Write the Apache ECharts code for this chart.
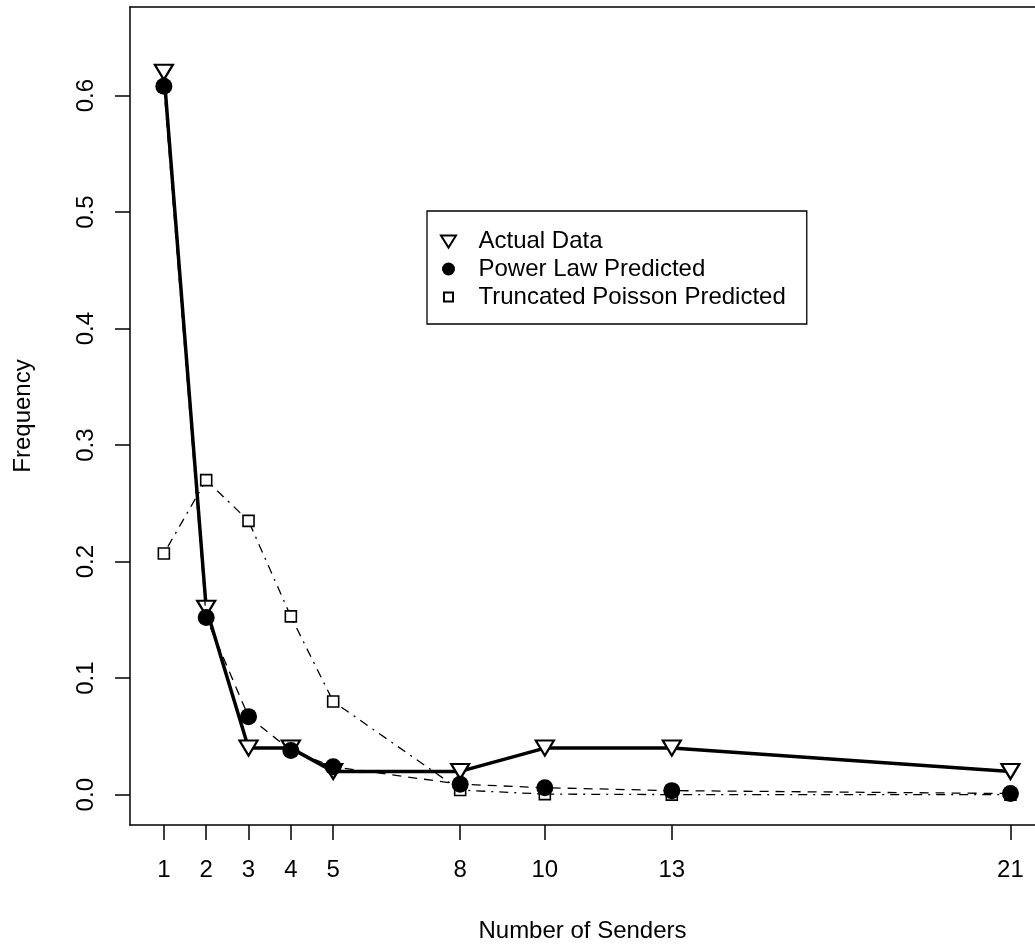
<!DOCTYPE html>
<head>
    <meta charset="utf-8">
    <title>ECharts</title>
</head>
<body style="margin:0;background:#fff">
    <div id="main" style="height:951px;width:1035px"></div>
    <script src="https://cdn.jsdelivr.net/npm/echarts@6/dist/echarts.min.js"></script>
    <script type="text/javascript">
    // data
    var senders = [1, 2, 3, 4, 5, 8, 10, 13, 21];
    var actualData = [0.62, 0.16, 0.04, 0.04, 0.02, 0.02, 0.04, 0.04, 0.02];
    var powerLaw = [0.608, 0.152, 0.067, 0.038, 0.024, 0.009, 0.006, 0.0035, 0.001];
    var poisson = [0.207, 0.270, 0.235, 0.153, 0.080, 0.004, 0.0005, 0.0001, 0.0];
    var yTicks = [0, 0.1, 0.2, 0.3, 0.4, 0.5, 0.6];

    function pairs(ys) {
        var out = [];
        for (var i = 0; i < senders.length; i++) {
            out.push([senders[i], ys[i]]);
        }
        return out;
    }

    var FONT = 'Liberation Sans';
    var triPath = 'path://M0,0L20,0L10,17Z';
    var myChart = echarts.init(document.getElementById('main'));
    var option = {
        backgroundColor: '#fff',
        animation: false,
        textStyle: {fontFamily: FONT, color: '#000'},
        legend: {
            orient: 'vertical',
            left: 427,
            top: 211,
            padding: [18, 21, 15, 13],
            borderColor: '#000',
            borderWidth: 1.3,
            itemWidth: 42,
            itemHeight: 13,
            itemGap: 4,
            textStyle: {fontFamily: FONT, fontSize: 24, color: '#000', padding: [0, 0, 0, 4]},
            data: [
                {name: 'Actual Data', icon: 'path://M0,0M15,13M0,1L15,1L7.5,13Z'},
                {name: 'Power Law Predicted', icon: 'circle'},
                {name: 'Truncated Poisson Predicted', icon: 'path://M0,0M13,13M2,2L11,2L11,11L2,11Z'}
            ]
        },
        grid: {left: 130, right: 0, top: 7, bottom: 126},
        xAxis: [{
            type: 'value',
            min: 0.2,
            max: 21.58,
            name: 'Number of Senders',
            nameLocation: 'middle',
            nameGap: 94,
            nameTextStyle: {fontFamily: FONT, fontSize: 24, color: '#000'},
            splitLine: {show: false},
            axisLine: {onZero: false, lineStyle: {color: '#000', width: 1.5}},
            axisTick: {length: 15, lineStyle: {color: '#000', width: 1.5}, customValues: senders},
            axisLabel: {fontFamily: FONT, fontSize: 24, color: '#000', margin: 33, customValues: senders}
        }, {
            type: 'value',
            position: 'top',
            min: 0.2,
            max: 21.58,
            splitLine: {show: false},
            axisLine: {onZero: false, lineStyle: {color: '#000', width: 1.5}},
            axisTick: {show: false},
            axisLabel: {show: false}
        }],
        yAxis: {
            type: 'value',
            min: -0.026,
            max: 0.676,
            name: 'Frequency',
            nameLocation: 'middle',
            nameGap: 95,
            nameTextStyle: {fontFamily: FONT, fontSize: 24, color: '#000'},
            splitLine: {show: false},
            axisLine: {show: true, onZero: false, lineStyle: {color: '#000', width: 1.5}},
            axisTick: {show: true, length: 15, lineStyle: {color: '#000', width: 1.5}, customValues: yTicks},
            axisLabel: {
                fontFamily: FONT, fontSize: 24, color: '#000', margin: 32, rotate: 90,
                customValues: yTicks,
                formatter: function (v) { return v.toFixed(1); }
            }
        },
        series: [{
            name: 'Actual Data',
            type: 'line',
            data: pairs(actualData),
            symbol: triPath,
            symbolSize: [18, 15],
            z: 2,
            lineStyle: {color: '#000', width: 3.5},
            itemStyle: {color: '#fff', borderColor: '#000', borderWidth: 2.2}
        }, {
            name: 'Truncated Poisson Predicted',
            type: 'line',
            data: pairs(poisson),
            symbol: 'rect',
            symbolSize: 11,
            z: 3,
            lineStyle: {color: '#000', width: 1.3, type: [2, 6, 9, 6]},
            itemStyle: {color: '#fff', borderColor: '#000', borderWidth: 1.6}
        }, {
            name: 'Power Law Predicted',
            type: 'line',
            data: pairs(powerLaw),
            symbol: 'circle',
            symbolSize: 17,
            z: 4,
            lineStyle: {color: '#000', width: 1.3, type: [9, 7]},
            itemStyle: {color: '#000'}
        }]
    };
    myChart.setOption(option);
    </script>
</body>
